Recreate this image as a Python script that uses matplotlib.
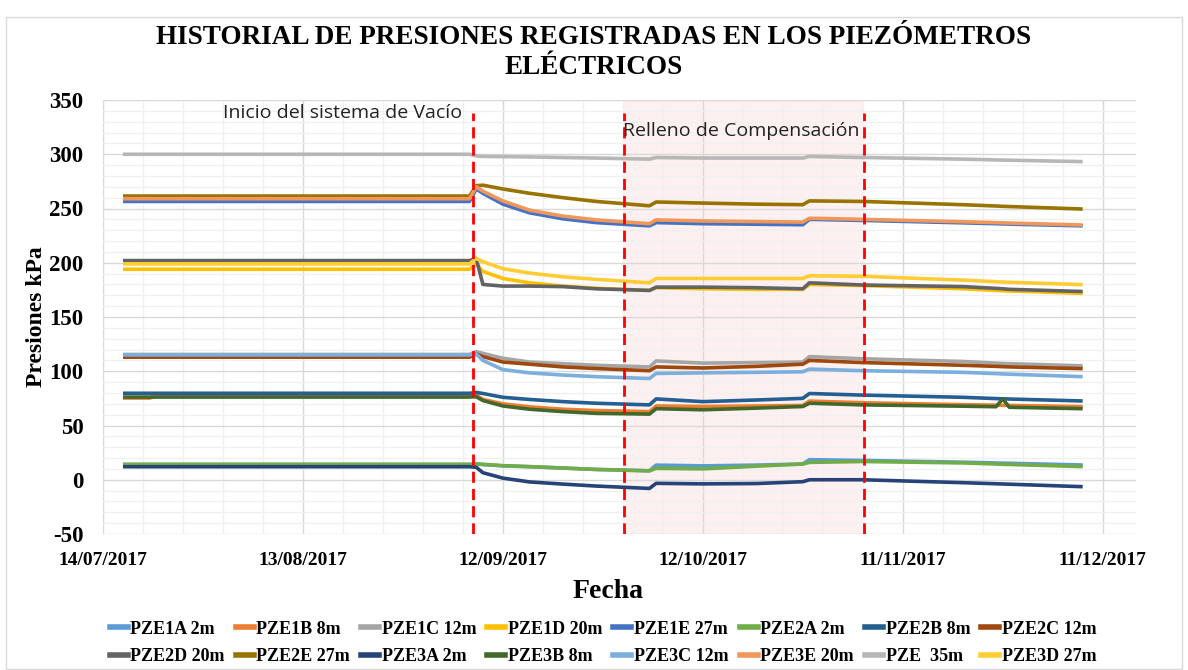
import matplotlib
matplotlib.use("Agg")
import matplotlib.pyplot as plt
from matplotlib.lines import Line2D
from matplotlib.patches import Rectangle
import pandas as pd

plt.rcParams["axes.unicode_minus"] = False

# Reading dates (common to every piezometer)
fechas = pd.to_datetime([
    "2017-07-17", "2017-07-21", "2017-07-22", "2017-09-07", "2017-09-08",
    "2017-09-09", "2017-09-12", "2017-09-16", "2017-09-21", "2017-09-26",
    "2017-10-04", "2017-10-05", "2017-10-12", "2017-10-20", "2017-10-27",
    "2017-10-28", "2017-11-05", "2017-11-20", "2017-11-25", "2017-11-26",
    "2017-11-27", "2017-12-08",
])

# Pressures in kPa
pze1a_2m = [14, 14, 14, 14, 14.5, 14, 12.8, 12, 10.8, 9.5, 8.3, 13.5, 12.8, 13.5, 14.5, 18.5, 17.8, 16.2, 15.5, 15.3, 15.2, 13.6]
pze1b_8m = [75.3, 75.3, 77.2, 77.2, 78, 74, 70, 67.2, 65, 63.8, 62.8, 68, 67.5, 68, 68.5, 72.5, 71, 69.2, 68.8, 68.6, 68.5, 67.4]
pze1c_12m = [115.5, 115.5, 115.5, 115.5, 118, 116.5, 112, 108.5, 107, 105.5, 104, 109.5, 107.5, 108, 108.5, 113.5, 111.5, 109, 107.5, 107.2, 107, 105]
pze1d_20m = [194, 194, 194, 194, 199, 192, 185.5, 181.5, 178.5, 176.5, 174.5, 177, 176, 175.5, 175.5, 180, 179, 176, 174.5, 174.2, 174, 171.8]
pze1e_27m = [256.5, 256.5, 256.5, 256.5, 268, 264, 254, 246, 240.5, 237, 234, 237, 236, 235.5, 235, 240, 239, 236.8, 236, 235.8, 235.6, 234]
pze2a_2m = [14.2, 14.2, 14.2, 14.2, 14.6, 14.2, 13, 12.1, 10.8, 9.5, 8.2, 10.5, 10, 12.5, 14.5, 16, 16.8, 15.5, 14.5, 14.2, 14.1, 12.1]
pze2b_8m = [79.7, 79.7, 79.7, 79.7, 80.5, 79.5, 76, 74, 72, 70.5, 69, 74.5, 72, 73.5, 75, 79.5, 78, 76, 74.8, 74.6, 74.4, 72.6]
pze2c_12m = [113, 113, 113, 113, 116, 113.5, 108.5, 106.5, 104, 102.5, 100.5, 104, 103, 104.5, 106.5, 110, 108, 105.5, 104.5, 104.2, 104, 102.4]
pze2d_20m = [202, 202, 202, 202, 204, 180, 178.5, 178.5, 178, 176, 174.5, 177.5, 177.5, 177, 176, 181.5, 179.5, 178, 176.4, 176, 175.5, 173.5]
pze2e_27m = [261.5, 261.5, 261.5, 261.5, 271, 271.5, 268, 264, 260, 256.5, 252.5, 256, 255, 254, 253.5, 257, 256.5, 253.5, 252.3, 252, 251.8, 249.5]
pze3a_2m = [12, 12, 12, 12, 11.5, 6.5, 1.5, -2, -4, -5.8, -8, -3.3, -3.8, -3.5, -1.8, 0, 0, -2.7, -3.7, -3.9, -4.1, -6.4]
pze3b_8m = [76.2, 76.2, 76.2, 76.2, 76.5, 73, 68, 65, 62.8, 61.2, 60.5, 65.5, 64.5, 66, 67.5, 70.5, 69, 67.8, 67.3, 74.5, 66.8, 65.5]
pze3c_12m = [115, 115, 115, 115, 116, 110, 101.5, 98.5, 96.5, 95, 93.3, 98, 98.5, 99, 99.5, 102, 100.5, 99, 97.8, 97.5, 97.3, 95]
pze3e_20m = [259, 259, 259, 259, 270, 266, 257, 248.5, 243, 239.5, 236, 239.5, 238.5, 238, 237.5, 241, 240, 237.8, 237, 236.8, 236.6, 234.8]
pze_35m = [300, 300, 300, 300, 298.5, 298, 297.8, 297.5, 297, 296.5, 295.5, 297, 296.5, 296.5, 296.5, 298, 297, 295.5, 294.8, 294.6, 294.5, 293.2]
pze3d_27m = [199, 199, 199, 199, 204, 201, 194.5, 190.5, 187, 184.7, 181.5, 185.5, 185.5, 185.5, 185.5, 188, 187.5, 184, 182.5, 182.2, 182, 179.8]

etiquetas = ["PZE1A 2m", "PZE1B 8m", "PZE1C 12m", "PZE1D 20m", "PZE1E 27m",
             "PZE2A 2m", "PZE2B 8m", "PZE2C 12m", "PZE2D 20m", "PZE2E 27m",
             "PZE3A 2m", "PZE3B 8m", "PZE3C 12m", "PZE3E 20m", "PZE  35m",
             "PZE3D 27m"]
colores = ["#5B9BD5", "#ED7D31", "#A5A5A5", "#FFC000", "#4472C4",
           "#70AD47", "#255E91", "#9E480E", "#636363", "#997300",
           "#264478", "#43682B", "#7CAFDD", "#F1975A", "#B7B7B7",
           "#FFCD33"]
series = [pze1a_2m, pze1b_8m, pze1c_12m, pze1d_20m, pze1e_27m,
          pze2a_2m, pze2b_8m, pze2c_12m, pze2d_20m, pze2e_27m,
          pze3a_2m, pze3b_8m, pze3c_12m, pze3e_20m, pze_35m, pze3d_27m]

# Events
inicio_vacio = pd.Timestamp("2017-09-07 12:00")
inicio_relleno = pd.Timestamp("2017-09-30 03:00")
fin_relleno = pd.Timestamp("2017-11-05 03:00")

x_ticks = pd.to_datetime(["2017-07-14", "2017-08-13", "2017-09-12",
                          "2017-10-12", "2017-11-11", "2017-12-11"])
x_tick_labels = ["14/07/2017", "13/08/2017", "12/09/2017",
                 "12/10/2017", "11/11/2017", "11/12/2017"]
x_min = pd.Timestamp("2017-07-14")
x_max = pd.Timestamp("2017-12-16")

serif = "Liberation Serif"

fig = plt.figure(figsize=(11.88, 6.70), dpi=100)
ax = fig.add_axes([103 / 1188, 1 - 534 / 670, (1136 - 103) / 1188, 434 / 670])

ax.axvspan(inicio_relleno, fin_relleno, color="#FDF0F0", zorder=0.3, lw=0)

for vals, lab, col in zip(series, etiquetas, colores):
    ax.plot(fechas, vals, color=col, lw=2.6, label=lab, solid_capstyle="butt", zorder=2)

for xd in (inicio_vacio, inicio_relleno, fin_relleno):
    ax.vlines(xd, -50, 338, colors="#FF0000", linestyles=(0, (4, 2.2)), lw=2, zorder=3)

ax.set_xlim(x_min, x_max)
ax.set_ylim(-50, 350)
ax.set_yticks(range(-50, 351, 50))
ax.set_yticks(range(-50, 351, 10), minor=True)
ax.set_xticks(x_ticks)
ax.set_xticklabels(x_tick_labels)
ax.set_xticks(pd.date_range(x_min, x_max, freq="6D"), minor=True)
ax.set_axisbelow(True)
ax.grid(which="major", color="#D9D9D9", lw=1.0)
ax.grid(which="minor", color="#F0F0F0", lw=1.0)
for s in ax.spines.values():
    s.set_visible(False)
ax.tick_params(which="both", length=0)
ax.tick_params(axis="y", pad=14)
ax.tick_params(axis="x", pad=13)
for t in ax.get_yticklabels():
    t.set_fontfamily(serif)
    t.set_fontweight("bold")
    t.set_fontsize(16.5)
for t in ax.get_xticklabels():
    t.set_fontfamily(serif)
    t.set_fontweight("bold")
    t.set_fontsize(14)

ax.set_ylabel("Presiones kPa", fontfamily=serif, fontweight="bold", fontsize=17, labelpad=2)

fig.text(0.5, 1 - 37 / 670, "HISTORIAL DE PRESIONES REGISTRADAS EN LOS PIEZÓMETROS",
         ha="center", va="center", fontfamily=serif, fontweight="bold", fontsize=19.5)
fig.text(0.5, 1 - 68 / 670, "ELÉCTRICOS",
         ha="center", va="center", fontfamily=serif, fontweight="bold", fontsize=19.5)
fig.text(608 / 1188, 1 - 592 / 670, "Fecha", ha="center", va="center",
         fontfamily=serif, fontweight="bold", fontsize=20)

fig.text(462 / 1188, 1 - 113 / 670, "Inicio del sistema de Vacío", ha="right", va="center",
         fontfamily="Open Sans", fontsize=14, color="#222222")
fig.text(623 / 1188, 1 - 131 / 670, "Relleno de Compensación", ha="left", va="center",
         fontfamily="Open Sans", fontsize=14, color="#222222")

# Legend laid out row by row (matplotlib fills columns first)
ncol = 8
orden = [r * ncol + c for c in range(ncol) for r in range(2)]
handles = [Line2D([], [], color=colores[i], lw=4) for i in orden]
labels = [etiquetas[i] for i in orden]
fig.legend(handles, labels, loc="center", bbox_to_anchor=(603 / 1188, 1 - 643 / 670),
           ncol=ncol, frameon=False, handlelength=1.0, handletextpad=0.15, columnspacing=0.6,
           labelspacing=0.6, prop={"family": serif, "weight": "bold", "size": 13})

fig.patches.append(Rectangle((6 / 1188, 0.002), 1 - 12 / 1188, 1 - 17 / 670 - 0.002,
                             transform=fig.transFigure, fill=False, ec="#D9D9D9", lw=1))

fig.savefig("out.png", dpi=100, facecolor="white")
